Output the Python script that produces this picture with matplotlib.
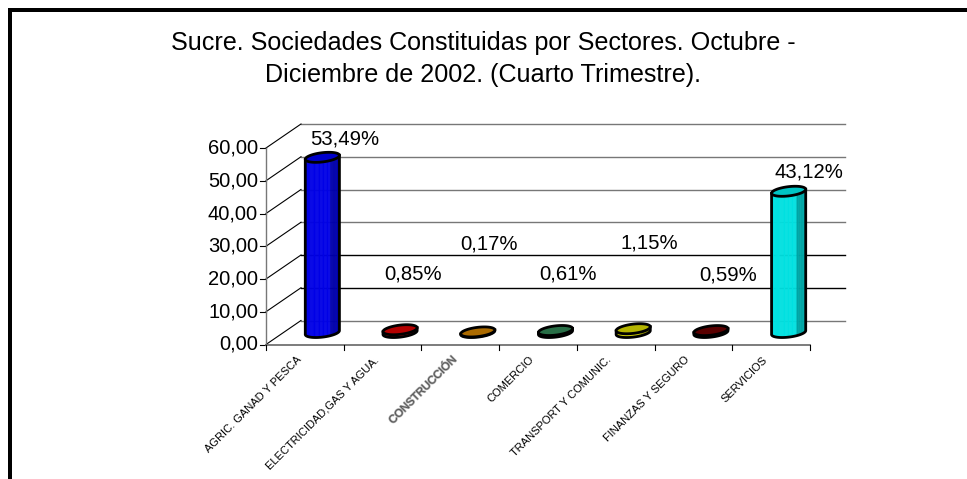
#Sucre: sociedades constituidas por sectores, Excel style 3D cylinders
import numpy as np
import matplotlib
matplotlib.use('Agg')
import matplotlib.pyplot as plt
import matplotlib.patheffects as pe
from matplotlib.patches import Polygon, Rectangle

plt.rcParams['font.family'] = ['Liberation Sans', 'DejaVu Sans']

sectores = ['AGRIC. GANAD Y PESCA', 'ELECTRICIDAD,GAS Y AGUA.', 'CONSTRUCCIÓN', 'COMERCIO',
            'TRANSPORT Y COMUNIC.', 'FINANZAS Y SEGURO', 'SERVICIOS']
valores = [53.49, 0.85, 0.17, 0.61, 1.15, 0.59, 43.12]
colores = ['#0000e6', '#cc0000', '#c47a00', '#2e7d50', '#cccc00', '#660000', '#00e0e0']
y_ticks = [0, 10, 20, 30, 40, 50, 60]
titulo = ['Sucre. Sociedades Constituidas por Sectores. Octubre -', 'Diciembre de 2002. (Cuarto Trimestre).']

W, H = 967, 479
fig = plt.figure(figsize=(W/100, H/100), dpi=100, facecolor='white')

# plot box in pixels: x 266..810, y 344.5..148
ax = fig.add_axes([266/W, 1-344.5/H, (810-266)/W, (344.5-148)/H])
ax.set_xlim(0, len(sectores))
ax.set_ylim(0, 60)
ax.axis('off')
px = len(sectores)/(810-266)  # data units per pixel
py = 60/(344.5-148)
dx = 35*px  # depth of the 3d box
dy = 24*py

# black frame: only left and top edges are in the picture
for r in [(8, 8, 3.5, H-8), (8, 8, W-8, 3.5)]:
    fig.add_artist(Rectangle((r[0]/W, 1-(r[1]+r[3])/H), r[2]/W, r[3]/H, transform=fig.transFigure, color='black', lw=0))

fig.text(483/W, 1-43/H, titulo[0], ha='center', va='center', fontsize=18.1)
fig.text(483/W, 1-75/H, titulo[1], ha='center', va='center', fontsize=18.1)

# walls
grid_col = ['#777777', 'black', 'black', '#777777', '#777777', '#777777', '#777777']
for t, c in zip(y_ticks, grid_col):
    ax.plot([dx, 7+dx], [t+dy, t+dy], color=c, lw=1, clip_on=False, zorder=1)
    ax.plot([0, dx], [t, t+dy], color='black', lw=0.8, clip_on=False, zorder=1)
    ax.plot([-6*px, 0], [t, t], color='black', lw=0.8, clip_on=False, zorder=1)
    ax.text(-8*px, t, f'{t:.2f}'.replace('.', ','), ha='right', va='center', fontsize=14.5, clip_on=False)
ax.plot([0, 0], [0, 60], color='#777777', lw=1, clip_on=False, zorder=1)
ax.plot([0, 7], [0, 0], color='#666666', lw=1.2, clip_on=False, zorder=1)
for i in range(8):
    ax.plot([i, i], [0, -5*py], color='black', lw=0.8, clip_on=False, zorder=1)


def ellipse(cx, cy, t):
    # tilted ellipse, a and b in pixels, back to data units
    a, b = 17.2, 4.6
    rot = np.radians(7)
    u = a*np.cos(t)
    v = b*np.sin(t)
    return cx + (u*np.cos(rot) - v*np.sin(rot))*px, cy + (u*np.sin(rot) + v*np.cos(rot))*py


def shade(col, f):
    return tuple(np.array(matplotlib.colors.to_rgb(col))*f)


label_off = [(22, 18), (13, 56), (11, 88), (13, 57), (16, 86), (17, 56), (20, 19)]
for i, v in enumerate(valores):
    cx = i + 0.5 + dx/2
    base = dy/2
    top = base + v
    t = np.linspace(np.pi, 2*np.pi, 41)
    xb, yb = ellipse(cx, base, t)
    xt, yt = ellipse(cx, top, t)
    # strips around the front of the cylinder, darker to the right
    for j in range(40):
        f = 1.0 if j < 26 else 0.72 + 0.05*(j % 2)
        col = shade(colores[i], f)
        ax.add_patch(Polygon([(xb[j], yb[j]), (xb[j+1], yb[j+1]), (xt[j+1], yt[j+1]), (xt[j], yt[j])],
                             closed=True, fc=col, ec=col, lw=0.4, zorder=3))
    ax.plot(np.r_[xt[0], xb, xt[-1]], np.r_[yt[0], yb, yt[-1]], color='black', lw=2, zorder=4, clip_on=False)
    tt = np.linspace(0, 2*np.pi, 81)
    xe, ye = ellipse(cx, top, tt)
    ax.add_patch(Polygon(np.c_[xe, ye], closed=True, fc=shade(colores[i], 0.88), ec='black', lw=2, zorder=5))
    ax.annotate(f'{v:.2f}'.replace('.', ',') + '%', (cx, top), xytext=label_off[i], textcoords='offset pixels',
                ha='center', va='center', fontsize=14.6, zorder=6, annotation_clip=False)
    txt = ax.annotate(sectores[i], (i+0.5, 0), xytext=(-9, -10), textcoords='offset pixels', rotation=45,
                      rotation_mode='anchor', ha='right', va='top', fontsize=8, annotation_clip=False)
    if sectores[i] == 'CONSTRUCCIÓN':
        txt.set_color('#555555')
        txt.set_path_effects([pe.withStroke(linewidth=1.0, foreground='#aaaaaa')])

fig.savefig('out.png', dpi=100)
